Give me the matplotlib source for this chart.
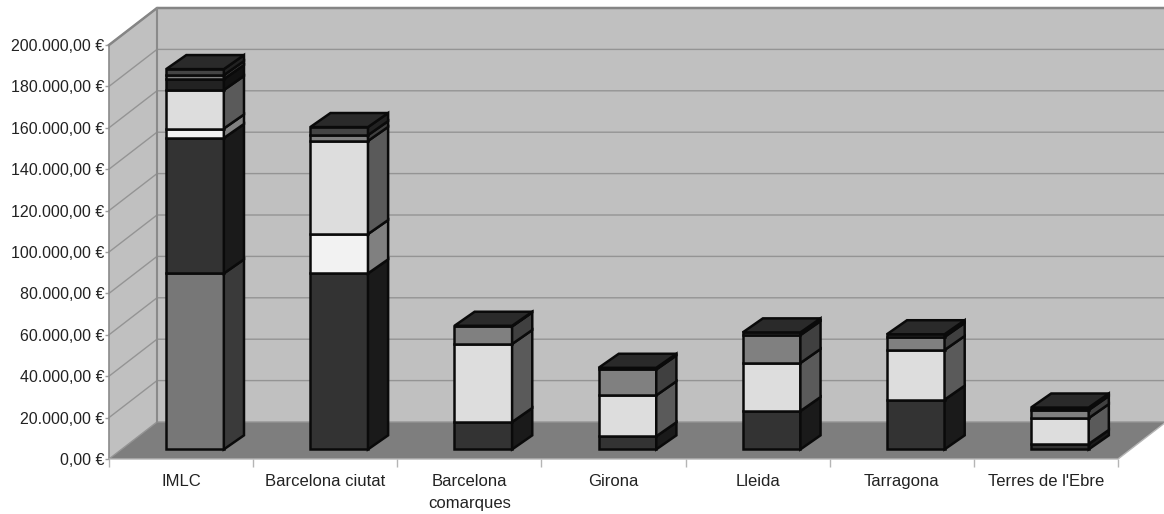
import matplotlib
matplotlib.use("Agg")
import matplotlib.pyplot as plt
from matplotlib.patches import Polygon
from matplotlib.ticker import FuncFormatter

categories = ["IMLC", "Barcelona ciutat", "Barcelona\ncomarques", "Girona", "Lleida", "Tarragona", "Terres de l'Ebre"]

# stacked from the bottom up, euros
s_gray = [85000, 0, 0, 0, 0, 0, 0]
s_dark = [65400, 85000, 13200, 6300, 18500, 24000, 2600]
s_white = [4600, 19000, 0, 0, 0, 0, 0]
s_light = [18600, 45000, 37700, 19800, 23200, 24000, 12500]
s_black = [5300, 0, 0, 0, 0, 0, 0]
s_mid = [1900, 2800, 8500, 12500, 13500, 6300, 3900]
s_top = [2900, 3900, 300, 800, 1300, 1300, 1200]

series = [s_gray, s_dark, s_white, s_light, s_black, s_mid, s_top]
front_colors = ["#777777", "#333333", "#f2f2f2", "#dddddd", "#222222", "#808080", "#444444"]
side_colors = ["#3a3a3a", "#1a1a1a", "#808080", "#5a5a5a", "#111111", "#404040", "#222222"]
top_color = "#2a2a2a"

W, H = 1164, 514
X0, X1 = 109, 1118
Y0, Y1 = 459, 45
DEPTH_X = 48 / 144.14
DEPTH_Y = 37 / 2.07 * 1000
BAR_W = 0.4
YMAX = 200000

WALL = "#c0c0c0"
FLOOR = "#7e7e7e"
GRID = "#949494"
EDGE = "#0a0a0a"

plt.rcParams["font.family"] = ["Liberation Sans", "DejaVu Sans"]

fig = plt.figure(figsize=(W / 100, H / 100), dpi=100)
ax = fig.add_axes([X0 / W, 1 - Y0 / H, (X1 - X0) / W, (Y0 - Y1) / H])
ax.set_xlim(0, 7)
ax.set_ylim(0, YMAX)
for s in ax.spines.values():
    s.set_visible(False)
ax.patch.set_visible(False)

def poly(pts, fc, ec="none", lw=0, z=1):
    ax.add_patch(Polygon(pts, closed=True, facecolor=fc, edgecolor=ec, linewidth=lw,
                         zorder=z, clip_on=False, joinstyle="miter"))

# walls and floor
poly([(DEPTH_X, DEPTH_Y), (7 + DEPTH_X, DEPTH_Y), (7 + DEPTH_X, YMAX + DEPTH_Y), (DEPTH_X, YMAX + DEPTH_Y)], WALL)
poly([(0, 0), (DEPTH_X, DEPTH_Y), (DEPTH_X, YMAX + DEPTH_Y), (0, YMAX)], WALL)
poly([(0, 0), (7, 0), (7 + DEPTH_X, DEPTH_Y), (DEPTH_X, DEPTH_Y)], FLOOR)

yticks = list(range(0, YMAX + 1, 20000))
for v in yticks:
    ax.plot([0, DEPTH_X, 7 + DEPTH_X], [v, v + DEPTH_Y, v + DEPTH_Y], color=GRID, lw=1.0,
            zorder=2, clip_on=False)
ax.plot([0, DEPTH_X, 7 + DEPTH_X], [YMAX, YMAX + DEPTH_Y, YMAX + DEPTH_Y], color="#858585", lw=1.8, zorder=2, clip_on=False)
ax.plot([DEPTH_X, DEPTH_X], [DEPTH_Y, YMAX + DEPTH_Y], color="#8a8a8a", lw=1.5, zorder=2, clip_on=False)
ax.plot([0, 0], [0, YMAX], color="#8a8a8a", lw=1.2, zorder=2, clip_on=False)
ax.plot([0, 7, 7 + DEPTH_X], [0, 0, DEPTH_Y], color="#b5b5b5", lw=1.0, zorder=2, clip_on=False)

# bars
lw = 1.8
fx = 0.29 * DEPTH_X
fy = 0.26 * DEPTH_Y
bx = 0.42 * DEPTH_X
by = 0.38 * DEPTH_Y
for i in range(len(categories)):
    left = i + 0.5 - BAR_W / 2 + fx
    right = left + BAR_W
    base = fy
    z = 3 + i
    for vals, fc, sc in zip(series, front_colors, side_colors):
        v = vals[i]
        if v == 0:
            continue
        top = base + v
        poly([(left, base), (right, base), (right, top), (left, top)], fc, EDGE, lw, z)
        poly([(right, base), (right + bx, base + by), (right + bx, top + by), (right, top)], sc, EDGE, lw, z)
        base = top
    poly([(left, base), (right, base), (right + bx, base + by), (left + bx, base + by)], top_color, EDGE, lw, z)

# axis text
ax.set_yticks(yticks)
ax.yaxis.set_major_formatter(FuncFormatter(
    lambda v, p: f"{int(v):,}".replace(",", ".") + ",00 €"))
ax.tick_params(axis="y", length=3, width=1, color="#a0a0a0", labelsize=11.5, labelcolor="#222222", pad=0.5)
ax.set_xticks(range(8))
ax.set_xticklabels([])
ax.set_xticks([i + 0.5 for i in range(7)], categories, minor=True, linespacing=1.6, va="top")
ax.tick_params(axis="x", which="major", length=6, width=1, color="#b5b5b5")
ax.tick_params(axis="x", which="minor", length=0, labelsize=12, labelcolor="#222222", pad=10.5)

fig.savefig("out.png", dpi=100)
